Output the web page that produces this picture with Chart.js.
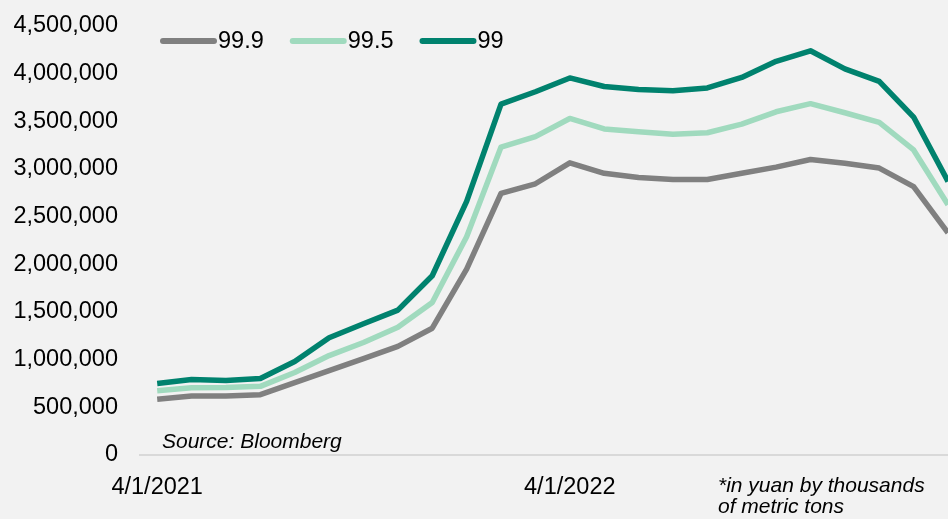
<!DOCTYPE html>
<html lang="en">
<head>
    <meta charset="UTF-8">
    <title>Price by purity</title>
    <script src="https://cdn.jsdelivr.net/npm/chart.js"></script>
    <style>
        body {
            margin: 0;
            background-color: #f2f2f2;
            font-family: "Liberation Sans", Arial, sans-serif;
        }
        .chart-box {
            position: relative;
            width: 948px;
            height: 519px;
        }
    </style>
</head>
<body>
    <div class="chart-box">
        <canvas id="priceChart"></canvas>
    </div>
    <script>
        // Monthly readings, April 2021 to March 2023
        const months = [
            '4/1/2021', '5/1/2021', '6/1/2021', '7/1/2021', '8/1/2021', '9/1/2021',
            '10/1/2021', '11/1/2021', '12/1/2021', '1/1/2022', '2/1/2022', '3/1/2022',
            '4/1/2022', '5/1/2022', '6/1/2022', '7/1/2022', '8/1/2022', '9/1/2022',
            '10/1/2022', '11/1/2022', '12/1/2022', '1/1/2023', '2/1/2023', '3/1/2023'
        ];
        const tickMonths = ['4/1/2021', '4/1/2022'];

        const grade999 = [
            584000, 618000, 620000, 633000, 760000, 886000, 1010000, 1140000, 1330000, 1950000, 2745000, 2845000,
            3065000, 2955000, 2910000, 2890000, 2890000, 2955000, 3020000, 3100000, 3060000, 3010000, 2815000, 2330000
        ];
        const grade995 = [
            675000, 706000, 709000, 720000, 865000, 1043000, 1180000, 1340000, 1600000, 2290000, 3230000, 3340000,
            3530000, 3420000, 3390000, 3365000, 3380000, 3470000, 3600000, 3685000, 3590000, 3490000, 3200000, 2625000
        ];
        const grade99 = [
            750000, 792000, 782000, 803000, 980000, 1230000, 1376000, 1520000, 1880000, 2660000, 3680000, 3810000,
            3955000, 3865000, 3834000, 3820000, 3850000, 3960000, 4130000, 4240000, 4050000, 3920000, 3545000, 2870000
        ];

        const FONT = '"Liberation Sans", Arial, sans-serif';

        function toPoints(values) {
            return values.map((v, i) => ({ x: i, y: v }));
        }

        // legend swatches and the two notes sit on top of the plot
        const overlayText = {
            id: 'overlayText',
            afterDraw(chart) {
                const ctx = chart.ctx;
                ctx.save();
                ctx.textBaseline = 'middle';
                ctx.fillStyle = '#000';

                // legend
                let x = 161;
                const y = 41;
                ctx.font = '23.5px ' + FONT;
                chart.data.datasets.forEach(ds => {
                    ctx.strokeStyle = ds.borderColor;
                    ctx.lineWidth = 6;
                    ctx.lineCap = 'round';
                    ctx.beginPath();
                    ctx.moveTo(x + 2, y);
                    ctx.lineTo(x + 53, y);
                    ctx.stroke();
                    ctx.fillText(ds.label, x + 57, y + 1);
                    x += 57 + ctx.measureText(ds.label).width + 27;
                });

                // notes
                ctx.font = 'italic 21px ' + FONT;
                ctx.fillText('Source: Bloomberg', 162, 442);
                ctx.fillText('*in yuan by thousands', 718, 486);
                ctx.fillText('of metric tons', 718, 507);
                ctx.restore();
            }
        };

        const lineStyle = {
            borderWidth: 5.5,
            pointRadius: 0,
            tension: 0,
            fill: false,
            borderJoinStyle: 'round'
        };

        new Chart(document.getElementById('priceChart'), {
            type: 'line',
            data: {
                labels: months,
                datasets: [
                    { label: '99.9', data: toPoints(grade999), borderColor: '#808080', ...lineStyle },
                    { label: '99.5', data: toPoints(grade995), borderColor: '#a0dabe', ...lineStyle },
                    { label: '99', data: toPoints(grade99), borderColor: '#00826e', ...lineStyle }
                ]
            },
            options: {
                responsive: true,
                maintainAspectRatio: false,
                animation: false,
                layout: { padding: { top: 26, right: 0, left: 0, bottom: 0 } },
                plugins: {
                    legend: { display: false },
                    tooltip: { enabled: false }
                },
                scales: {
                    x: {
                        type: 'linear',
                        min: -0.5,
                        max: 23,
                        grid: { display: false, drawTicks: false },
                        border: { display: true, color: '#d9d9d9', width: 2 },
                        afterBuildTicks(scale) {
                            scale.ticks = tickMonths.map(m => ({ value: months.indexOf(m) }));
                        },
                        afterFit(scale) {
                            scale.height = 64;
                            scale.paddingLeft = 0;
                            scale.paddingRight = 0;
                        },
                        ticks: {
                            padding: 18,
                            maxRotation: 0,
                            color: '#000',
                            font: { family: FONT, size: 23.5 },
                            callback: v => months[v]
                        }
                    },
                    y: {
                        min: 0,
                        max: 4500000,
                        grid: { display: false, drawTicks: false },
                        border: { display: false },
                        afterFit(scale) {
                            scale.width = 140;
                            scale.paddingTop = 0;
                            scale.paddingBottom = 0;
                        },
                        ticks: {
                            stepSize: 500000,
                            padding: 22,
                            color: '#000',
                            font: { family: FONT, size: 23.5 },
                            callback: v => v.toLocaleString('en-US')
                        }
                    }
                }
            },
            plugins: [overlayText]
        });
    </script>
</body>
</html>
